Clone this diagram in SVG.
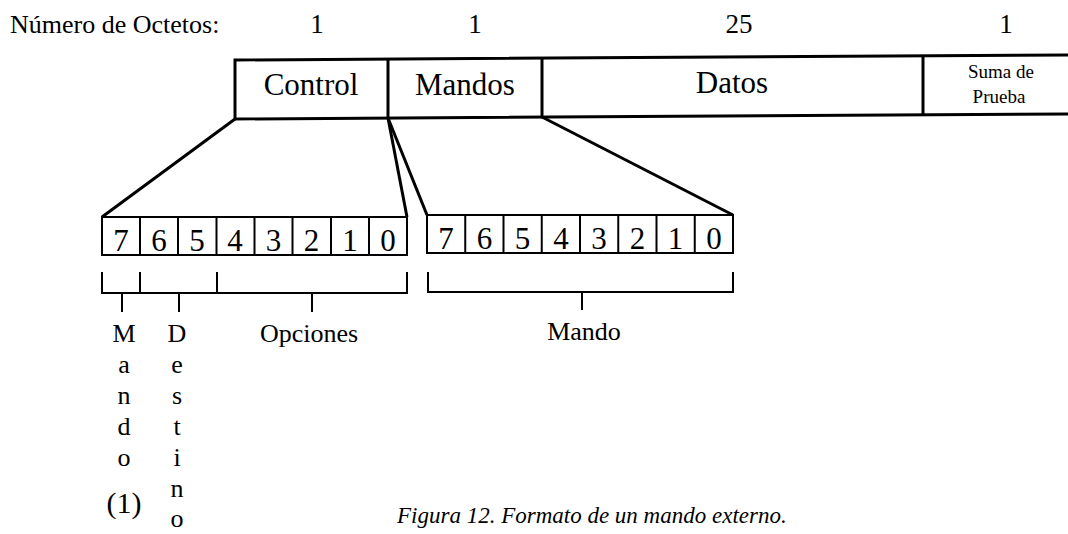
<svg xmlns="http://www.w3.org/2000/svg" width="1068" height="534" viewBox="0 0 1068 534">
<style>
text{font-family:"Liberation Serif","Times New Roman",serif;fill:#000}
.lbl{font-size:26px}
.hdr{font-size:31px;text-anchor:middle}
.num{font-size:27px;text-anchor:middle}
.bit{font-size:31px;text-anchor:middle}
.sm{font-size:19px;text-anchor:middle}
.v{font-size:26px;text-anchor:middle}
.frame{fill:none;stroke:#000;stroke-width:3}
.cell{fill:none;stroke:#000;stroke-width:2}
.br{fill:none;stroke:#000;stroke-width:2}
.conn{fill:none;stroke:#000;stroke-width:3;stroke-linejoin:round}
.cap{font-size:23px;font-style:italic}
</style>
<rect width="1068" height="534" fill="#fff"/>
<g id="header">
<text class="lbl" x="10" y="33">Número de Octetos:</text>
<text class="num" x="317" y="33">1</text>
<text class="num" x="475" y="33">1</text>
<text class="num" x="739" y="33">25</text>
<text class="num" x="1006" y="33">1</text>
</g>
<g id="frame">
<path class="frame" d="M1068,55 L235,60 L235,119 L1068,114"/>
<g id="control"><line class="frame" x1="388" y1="59" x2="388" y2="118"/><text class="hdr" x="311" y="95">Control</text></g>
<g id="mandos"><line class="frame" x1="542" y1="58" x2="542" y2="117"/><text class="hdr" x="465" y="95">Mandos</text></g>
<g id="datos"><line class="frame" x1="923" y1="56" x2="923" y2="115"/><text class="hdr" x="732" y="93">Datos</text></g>
<g id="suma"><text class="sm" x="1001" y="78">Suma de</text><text class="sm" x="999" y="103">Prueba</text></g>
</g>
<g id="connectors">
<line class="conn" x1="235" y1="119" x2="102" y2="217"/>
<line class="conn" x1="388" y1="118" x2="407" y2="217"/>
<line class="conn" x1="388" y1="118" x2="427" y2="215"/>
<line class="conn" x1="542" y1="117" x2="733" y2="215"/>
</g>
<g id="bits-control">
<rect class="cell" x="102" y="217" width="305" height="38"/>
<path class="cell" d="M140,217V255M178,217V255M216.5,217V255M254.5,217V255M292.5,217V255M331,217V255M369,217V255"/>
<text class="bit" x="121" y="251">7</text>
<text class="bit" x="159" y="251">6</text>
<text class="bit" x="197" y="251">5</text>
<text class="bit" x="235" y="251">4</text>
<text class="bit" x="273.5" y="251">3</text>
<text class="bit" x="311.5" y="251">2</text>
<text class="bit" x="350" y="251">1</text>
<text class="bit" x="388" y="251">0</text>
</g>
<g id="bits-mandos">
<rect class="cell" x="427" y="215" width="306" height="38"/>
<path class="cell" d="M465.25,215V253M503.5,215V253M541.75,215V253M580,215V253M618.25,215V253M656.5,215V253M694.75,215V253"/>
<text class="bit" x="446" y="249">7</text>
<text class="bit" x="484.5" y="249">6</text>
<text class="bit" x="522.5" y="249">5</text>
<text class="bit" x="561" y="249">4</text>
<text class="bit" x="599" y="249">3</text>
<text class="bit" x="637.5" y="249">2</text>
<text class="bit" x="675.5" y="249">1</text>
<text class="bit" x="714" y="249">0</text>
</g>
<g id="bracket-control">
<path class="br" d="M102,272V293H407V272M140,272V293M217,272V293M122,293V312M179,293V312M312,293V312"/>
</g>
<g id="bracket-mandos">
<path class="br" d="M428,272V292H733V272M582,292V310"/>
</g>
<g id="label-mando1">
<text class="v" x="124" y="342">M</text>
<text class="v" x="124" y="373">a</text>
<text class="v" x="124" y="404">n</text>
<text class="v" x="124" y="435">d</text>
<text class="v" x="124" y="466">o</text>
<text class="v" x="124" y="513" style="font-size:30px">(1)</text>
</g>
<g id="label-destino">
<text class="v" x="177" y="342">D</text>
<text class="v" x="177" y="373">e</text>
<text class="v" x="177" y="404">s</text>
<text class="v" x="177" y="435">t</text>
<text class="v" x="177" y="466">i</text>
<text class="v" x="177" y="497">n</text>
<text class="v" x="177" y="527">o</text>
</g>
<g id="label-opciones"><text class="v" x="309" y="342">Opciones</text></g>
<g id="label-mando"><text class="v" x="584" y="340">Mando</text></g>
<g id="caption"><text class="cap" x="397" y="523">Figura 12. Formato de un mando externo.</text></g>
</svg>
